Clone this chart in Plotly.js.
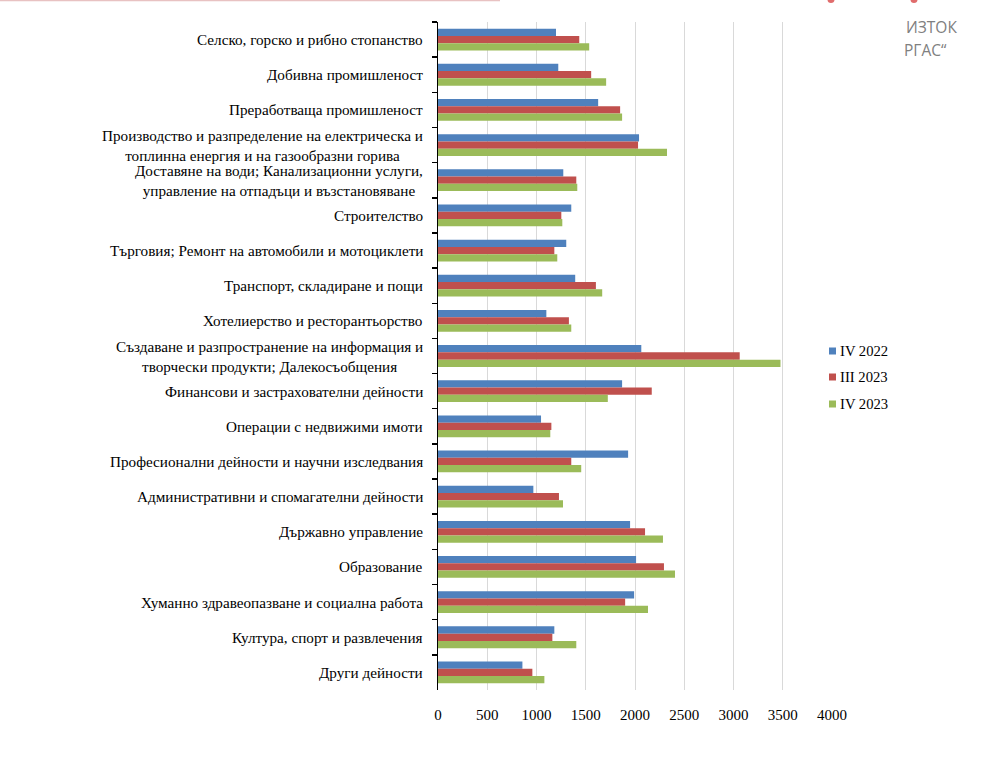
<!DOCTYPE html>
<html>
<head>
<meta charset="utf-8">
<script src="https://cdn.plot.ly/plotly-3.0.1.min.js"></script>
<style>
  html, body { margin: 0; padding: 0; background: #fff; }
  #chart { width: 982px; height: 760px; }
</style>
</head>
<body>
<div id="chart"></div>
<script>
const categories = [
  "Селско, горско и рибно стопанство",
  "Добивна промишленост",
  "Преработваща промишленост",
  "Производство и разпределение на електрическа и<br>топлинна енергия и на газообразни горива",
  "Доставяне на води; Канализационни услуги,<br>управление на отпадъци и възстановяване",
  "Строителство",
  "Търговия; Ремонт на автомобили и мотоциклети",
  "Транспорт, складиране и пощи",
  "Хотелиерство и ресторантьорство",
  "Създаване и разпространение на информация и<br>творчески продукти; Далекосъобщения",
  "Финансови и застрахователни дейности",
  "Операции с недвижими имоти",
  "Професионални дейности и научни изследвания",
  "Административни и спомагателни дейности",
  "Държавно управление",
  "Образование",
  "Хуманно здравеопазване и социална работа",
  "Култура, спорт и развлечения",
  "Други дейности"
];
const seriesNames = ["IV 2022", "III 2023", "IV 2023"];
const iv2022 = [1198, 1221, 1626, 2041, 1272, 1353, 1302, 1393, 1100, 2064, 1869, 1046, 1930, 968, 1950, 2011, 1991, 1181, 857];
const iii2023 = [1434, 1555, 1849, 2031, 1404, 1252, 1181, 1603, 1329, 3063, 2170, 1151, 1353, 1228, 2102, 2294, 1900, 1161, 958];
const iv2023 = [1535, 1707, 1869, 2325, 1414, 1262, 1211, 1667, 1353, 3477, 1724, 1140, 1454, 1269, 2284, 2406, 2132, 1404, 1080];
const xTicks = [0, 500, 1000, 1500, 2000, 2500, 3000, 3500, 4000];

const colors = ["#4F81BD", "#C0504D", "#9BBB59"];
const seriesValues = [iv2022, iii2023, iv2023];
const serif = "Liberation Serif, Times New Roman, serif";
const labelSize = 15.2;
const tickSize = 15;
const legendSize = 14.67;

const W = 982, H = 760;
const mL = 438, mR = 150, mT = 22, mB = 70;
const pw = W - mL - mR, ph = H - mT - mB;
const px2x = px => (px - mL) / pw;
const px2y = py => (H - mB - py) / ph;

const traces = seriesValues.map((vals, i) => ({
  type: "bar",
  orientation: "h",
  name: seriesNames[i],
  x: vals,
  y: categories,
  marker: { color: colors[i] },
  showlegend: false,
  hoverinfo: "x+name"
}));

const annotations = categories.map(c => ({
  xref: "paper", yref: "y",
  x: px2x(425), y: c,
  xanchor: "right", yanchor: "middle",
  align: "center",
  text: c,
  showarrow: false,
  font: { family: serif, size: labelSize, color: "#000" }
}));

const shapes = [];
const legendY = [351, 377, 404];
seriesNames.forEach((n, i) => {
  shapes.push({
    type: "rect", xref: "paper", yref: "paper",
    x0: px2x(829), x1: px2x(836),
    y0: px2y(legendY[i] + 3.5), y1: px2y(legendY[i] - 3.5),
    fillcolor: colors[i], line: { width: 0 }
  });
  annotations.push({
    xref: "paper", yref: "paper",
    x: px2x(838), y: px2y(legendY[i]),
    xanchor: "left", yanchor: "middle",
    text: n, showarrow: false,
    font: { family: serif, size: legendSize, color: "#000" }
  });
});

// page decorations (cropped header)
shapes.push({
  type: "line", xref: "paper", yref: "paper",
  x0: px2x(0), x1: px2x(500), y0: px2y(0.5), y1: px2y(0.5),
  line: { color: "rgba(205,120,120,0.45)", width: 1.5 }
});
[831, 914].forEach(cx => shapes.push({
  type: "circle", xref: "paper", yref: "paper",
  x0: px2x(cx - 3.5), x1: px2x(cx + 3.5), y0: px2y(3), y1: px2y(-4),
  fillcolor: "#E06C6C", line: { width: 0 }
}));
annotations.push({
  xref: "paper", yref: "paper", x: px2x(904), y: px2y(27),
  xanchor: "left", yanchor: "middle", text: "ИЗТОК", showarrow: false,
  font: { family: "Open Sans, sans-serif", size: 15.5, color: "#808080" }
});
annotations.push({
  xref: "paper", yref: "paper", x: px2x(902), y: px2y(50),
  xanchor: "left", yanchor: "middle", text: "РГАС“", showarrow: false,
  font: { family: "Open Sans, sans-serif", size: 15.5, color: "#808080" }
});

const layout = {
  width: W, height: H,
  margin: { l: mL, r: mR, t: mT, b: mB, pad: 0 },
  paper_bgcolor: "#fff", plot_bgcolor: "#fff",
  barmode: "group",
  bargap: 0.38,
  bargroupgap: 0,
  showlegend: false,
  font: { family: serif, size: tickSize, color: "#000" },
  xaxis: {
    range: [0, 4000],
    tickvals: xTicks,
    ticktext: xTicks.map(String),
    showgrid: true, gridcolor: "#D9D9D9", gridwidth: 1,
    zeroline: false, showline: false, ticks: "",
    ticklabelstandoff: 14,
    tickfont: { family: serif, size: tickSize, color: "#000" },
    fixedrange: true
  },
  yaxis: {
    type: "category",
    autorange: "reversed",
    showticklabels: false,
    showgrid: false, zeroline: false,
    showline: true, linecolor: "#000", linewidth: 1.5,
    ticks: "outside", ticklen: 5, tickcolor: "#000", tickwidth: 1.5,
    tickson: "boundaries",
    fixedrange: true
  },
  annotations: annotations,
  shapes: shapes
};

Plotly.newPlot("chart", traces, layout, { displayModeBar: false, staticPlot: true });
</script>
</body>
</html>
